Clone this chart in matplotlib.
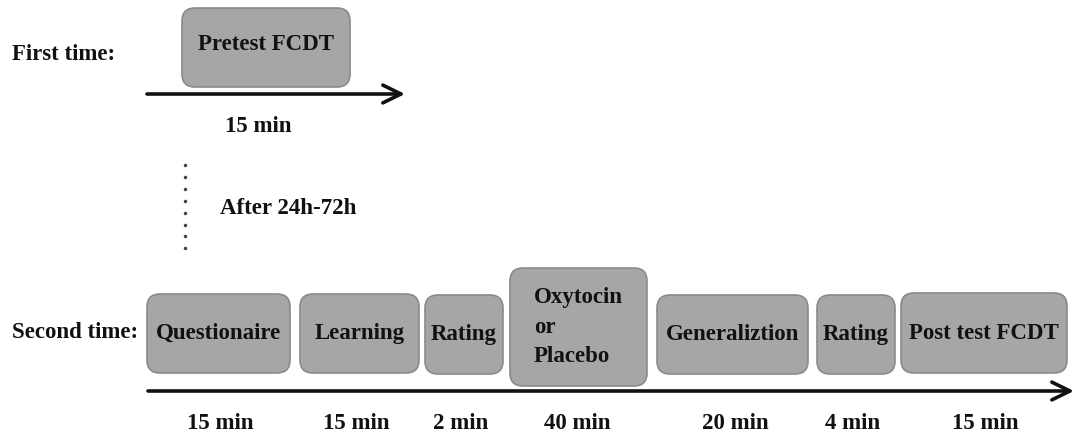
import matplotlib
matplotlib.use("Agg")
import matplotlib.pyplot as plt
from matplotlib.patches import FancyBboxPatch, FancyArrowPatch

# ---- data ----
first_label = "First time:"
first_stage = "Pretest FCDT"
first_duration = 15
gap_label = "After 24h-72h"
second_label = "Second time:"
stages = ["Questionaire", "Learning", "Rating", "Oxytocin\nor\nPlacebo",
          "Generaliztion", "Rating", "Post test FCDT"]
durations = [15, 15, 2, 40, 20, 4, 15]

# ---- layout (pixel coordinates) ----
first_box = (182, 350, 8, 87)
box_x = [(147, 290), (300, 419), (425, 503), (510, 647), (657, 808), (817, 895), (901, 1067)]
box_y = [(294, 373), (294, 373), (295, 374), (268, 386), (295, 374), (295, 374), (293, 373)]
dur_x = [220, 356, 461, 577, 735, 853, 985]

W, H = 1075, 436
fig = plt.figure(figsize=(W / 100, H / 100), dpi=100)
ax = fig.add_axes([0, 0, 1, 1])
ax.set_xlim(0, W)
ax.set_ylim(H, 0)
ax.axis("off")

FONT = dict(family=["Liberation Serif", "DejaVu Serif"], fontweight="bold",
            fontsize=16.5, color="#111111")
FACE = "#a6a6a6"
EDGE = "#8a8a8a"


def box(x0, x1, y0, y1):
    p = FancyBboxPatch((x0, y0), x1 - x0, y1 - y0,
                       boxstyle="round,pad=0,rounding_size=13",
                       facecolor=FACE, edgecolor=EDGE, linewidth=1.2)
    ax.add_patch(p)


def arrow(x0, x1, y):
    a = FancyArrowPatch((x0, y), (x1, y),
                        arrowstyle="->,head_length=0.65,head_width=0.32",
                        mutation_scale=20, color="#111111", linewidth=2.6,
                        shrinkA=0, shrinkB=0)
    ax.add_patch(a)


# first session
ax.text(12, 55, first_label, ha="left", va="center", **FONT)
box(*first_box)
ax.text((first_box[0] + first_box[1]) / 2, 44, first_stage, ha="center", va="center", **FONT)
arrow(147, 405, 94)
ax.text(258, 126, f"{first_duration} min", ha="center", va="center", **FONT)

# dotted gap
dot_y = [165 + 11.9 * i for i in range(8)]
ax.plot([185] * len(dot_y), dot_y, linestyle="none", marker="o", markersize=1.5,
        color="#444444")
ax.text(220, 208, gap_label, ha="left", va="center", **FONT)

# second session
ax.text(12, 332, second_label, ha="left", va="center", **FONT)
for lab, (x0, x1), (y0, y1) in zip(stages, box_x, box_y):
    box(x0, x1, y0, y1)
    ax.text((x0 + x1) / 2, (y0 + y1) / 2, lab, ha="center", va="center",
            multialignment="left", linespacing=1.55, **FONT)

arrow(148, 1074, 391)
for d, x in zip(durations, dur_x):
    ax.text(x, 423, f"{d} min", ha="center", va="center", **FONT)

fig.savefig("out.png", dpi=100)
